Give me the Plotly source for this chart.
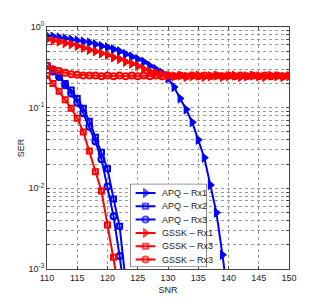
import plotly.graph_objects as go

snr_apq1 = list(range(110, 141))
apq_rx1 = [0.78, 0.76, 0.74, 0.72, 0.70, 0.68, 0.66, 0.64, 0.61, 0.58, 0.56, 0.53, 0.50, 0.46,
           0.43, 0.40, 0.37, 0.33, 0.30, 0.27, 0.23, 0.18, 0.13, 0.095, 0.066, 0.040, 0.024,
           0.011, 0.005, 0.0015, 0.0004]

snr_apq23 = list(range(110, 124))
apq_rx2 = [0.33, 0.29, 0.25, 0.20, 0.165, 0.13, 0.098, 0.068, 0.043, 0.028, 0.0175, 0.0074, 0.0034, 0.0007]
apq_rx3 = [0.33, 0.28, 0.24, 0.19, 0.15, 0.115, 0.085, 0.058, 0.038, 0.023, 0.0105, 0.0045, 0.00145, 0.0004]

snr_full = list(range(110, 151))
gssk_rx1 = [0.70, 0.68, 0.66, 0.63, 0.61, 0.58, 0.55, 0.52, 0.50, 0.47, 0.45, 0.42, 0.40, 0.37,
            0.35, 0.33, 0.30, 0.28, 0.27, 0.26, 0.25, 0.245, 0.25, 0.24, 0.245, 0.25, 0.24,
            0.245, 0.25, 0.24, 0.245, 0.25, 0.24, 0.245, 0.25, 0.245, 0.24, 0.25, 0.245, 0.24, 0.245]

snr_gsq = list(range(110, 123))
gssk_rx3_sq = [0.25, 0.20, 0.16, 0.125, 0.098, 0.074, 0.05, 0.029, 0.016, 0.0093, 0.0035, 0.0014, 0.0005]

gssk_rx3_ci = [0.33, 0.30, 0.285, 0.27, 0.26, 0.255, 0.25, 0.25, 0.25, 0.245, 0.25, 0.245, 0.25,
               0.245, 0.25, 0.245, 0.25, 0.245, 0.25, 0.245, 0.25, 0.245, 0.25, 0.245, 0.25, 0.245,
               0.25, 0.245, 0.25, 0.245, 0.25, 0.245, 0.25, 0.245, 0.25, 0.245, 0.25, 0.245, 0.25, 0.245, 0.25]

x_ticks = [110, 115, 120, 125, 130, 135, 140, 145, 150]
series_names = ["APQ – Rx1", "APQ – Rx2", "APQ – Rx3", "GSSK – Rx1", "GSSK – Rx3", "GSSK – Rx3"]

BLUE = "#0000FF"
RED = "#FF0000"
FONT = "Liberation Sans, Arial, sans-serif"

styles = [
    (BLUE, "triangle-right", 8, 1),
    (BLUE, "square-open", 5, 2),
    (BLUE, "circle-open", 6, 2),
    (RED, "triangle-right", 8, 1),
    (RED, "square-open", 5, 2),
    (RED, "circle-open", 6, 2),
]
data = [
    (snr_apq1, apq_rx1),
    (snr_apq23, apq_rx2),
    (snr_apq23, apq_rx3),
    (snr_full, gssk_rx1),
    (snr_gsq, gssk_rx3_sq),
    (snr_full, gssk_rx3_ci),
]

fig = go.Figure()

for (x, y), name, (color, symbol, size, lw) in zip(data, series_names, styles):
    fig.add_trace(go.Scatter(
        x=x, y=y, name=name, mode="lines+markers",
        line=dict(color=color, width=2),
        marker=dict(symbol=symbol, size=size, color=color, line=dict(color=color, width=lw)),
    ))

# compact legend drawn on an auxiliary, hidden axis pair (drawn above the main subplot)
for i, (name, (color, symbol, size, lw)) in enumerate(zip(series_names, styles)):
    yy = 0.89 - i * 0.16
    fig.add_trace(go.Scatter(
        x=[0.07, 0.2, 0.33], y=[yy, yy, yy], mode="lines+markers",
        xaxis="x2", yaxis="y2", showlegend=False, hoverinfo="skip",
        line=dict(color=color, width=2),
        marker=dict(symbol=symbol, size=[0, size, 0], color=color,
                    line=dict(color=color, width=lw)),
    ))
    fig.add_annotation(x=0.385, y=yy, xref="x2", yref="y2", text=name,
                       showarrow=False, xanchor="left", yanchor="middle",
                       font=dict(family=FONT, size=9, color="#222222"))

# white legend background inside the auxiliary subplot, beneath its own traces
fig.add_shape(type="rect", xref="x2", yref="y2", x0=0, x1=1, y0=0, y1=1,
              line=dict(width=0), fillcolor="white", layer="below")
fig.add_shape(type="rect", xref="x2", yref="y2", x0=0, x1=1, y0=0, y1=1,
              line=dict(color="#333333", width=1), fillcolor="rgba(0,0,0,0)", layer="above")

yvals = []
ytext = []
for e in range(-3, 1):
    for m in range(1, 10):
        v = m * 10.0 ** e
        if v > 1.0001:
            break
        yvals.append(v)
        ytext.append(f"10<sup>{e}</sup>" if m == 1 else "")

# page body has an 8px default margin, so the figure is sized to fit the window
fig.update_layout(
    width=311, height=297,
    margin=dict(l=34, r=30, t=15, b=35),
    paper_bgcolor="white", plot_bgcolor="white",
    font=dict(family=FONT, size=9, color="#222222"),
    showlegend=False,
    xaxis=dict(range=[110, 150], tickvals=x_ticks, ticks="inside", ticklen=3,
               showgrid=True, gridcolor="#999999", griddash="dot", gridwidth=1,
               showline=True, linecolor="#444444", mirror="ticks", zeroline=False,
               title=dict(text="SNR", standoff=4, font=dict(size=9))),
    yaxis=dict(type="log", range=[-3, 0], tickvals=yvals, ticktext=ytext,
               ticks="inside", ticklen=3,
               showgrid=True, gridcolor="#999999", griddash="dot", gridwidth=1,
               showline=True, linecolor="#444444", mirror="ticks", zeroline=False,
               title=dict(text="SER", standoff=2, font=dict(size=9))),
    xaxis2=dict(domain=[0.344, 0.66], range=[0, 1], anchor="y2", visible=False, fixedrange=True),
    yaxis2=dict(domain=[0.008, 0.352], range=[0, 1], anchor="x2", visible=False, fixedrange=True),
)

fig.write_html("out.html")
